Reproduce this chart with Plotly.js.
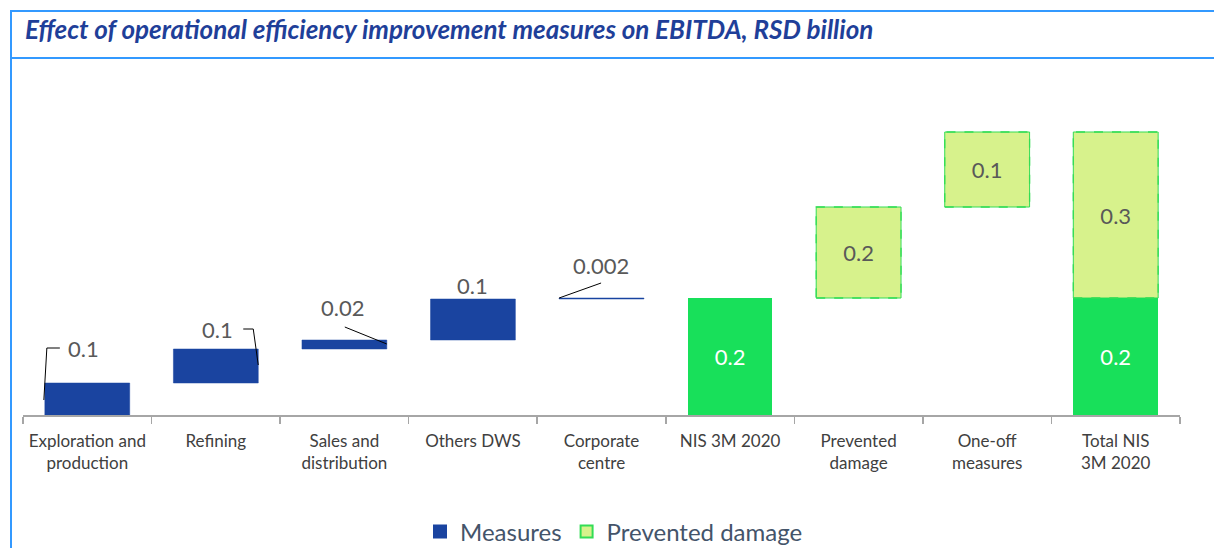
<!DOCTYPE html>
<html>
<head>
<meta charset="utf-8">
<script src="https://cdn.plot.ly/plotly-3.0.1.min.js"></script>
<style>
  html, body { margin: 0; padding: 0; background: #fff; }
  #wrap { position: relative; width: 1214px; height: 548px; overflow: hidden; }
  #chart { position: absolute; left: 0; top: 0; width: 1214px; height: 548px; }
  .fl { position: absolute; background: #3399ff; pointer-events: none; z-index: 5; }
</style>
</head>
<body>
<div id="wrap">
  <div id="chart"></div>
  <div class="fl" style="left:10px; top:10px; width:2px; height:538px;"></div>
  <div class="fl" style="left:10px; top:10px; width:1204px; height:2px;"></div>
  <div class="fl" style="left:10px; top:57px; width:1204px; height:2px;"></div>
</div>
<script>
// ---- data ----
const categories = ['Exploration and<br>production', 'Refining', 'Sales and<br>distribution', 'Others DWS',
  'Corporate<br>centre', 'NIS 3M 2020', 'Prevented<br>damage', 'One-off<br>measures', 'Total NIS<br>3M 2020'];
const measureValues = [0.064, 0.068, 0.018, 0.082, 0.002];
const measureLabels = ['0.1', '0.1', '0.02', '0.1', '0.002'];
const nisValue = 0.234;
const nisLabel = '0.2';
const preventedDamageValue = 0.182;
const oneOffValue = 0.150;
const damageLabels = ['0.2', '0.1', '0.3'];

// ---- styles ----
const BLUE = '#1a44a0', GREEN = '#18e05a', LIGHT = '#d7f28c', DASH = '#33dd55';
const FONT = 'Lato, "Open Sans", sans-serif';
const HALF = 0.33;

// measures (floating)
const measureCats = categories.slice(0, 5);
const measureBases = [];
let acc = 0;
measureValues.forEach(v => { measureBases.push(acc); acc += v; });

// prevented damage (floating)
const damageCats = [categories[6], categories[7], categories[8]];
const damageValues = [preventedDamageValue, oneOffValue, preventedDamageValue + oneOffValue];
const damageBases = [nisValue, nisValue + preventedDamageValue, nisValue];

const traces = [
  { type: 'bar', name: 'Measures', x: measureCats, y: measureValues, base: measureBases,
    marker: { color: BLUE, line: { color: BLUE, width: 0.5 } }, width: 2 * HALF, hoverinfo: 'skip' },
  { type: 'bar', name: 'Prevented damage', x: damageCats, y: damageValues, base: damageBases,
    marker: { color: LIGHT, line: { color: DASH, width: 1 } }, width: 2 * HALF,
    text: damageLabels, textposition: 'inside', insidetextanchor: 'middle', textangle: 0,
    textfont: { family: FONT, size: 22, color: '#595959' }, hoverinfo: 'skip' },
  { type: 'bar', name: 'NIS', showlegend: false, x: [categories[5], categories[8]], y: [nisValue, nisValue], base: [0, 0],
    marker: { color: GREEN, line: { width: 0 } }, width: 2 * HALF,
    text: [nisLabel, nisLabel], textposition: 'inside', insidetextanchor: 'middle', textangle: 0,
    textfont: { family: FONT, size: 22, color: '#ffffff' }, hoverinfo: 'skip' }
];

// dashed borders for prevented damage bars
const shapes = damageCats.map((c, i) => {
  const idx = categories.indexOf(c);
  return { type: 'rect', xref: 'x', yref: 'y', x0: idx - HALF, x1: idx + HALF,
    y0: damageBases[i], y1: damageBases[i] + damageValues[i],
    line: { color: DASH, width: 1.3, dash: 'dash' }, fillcolor: 'rgba(0,0,0,0)', layer: 'above' };
});

// leader lines (anchored to bar corners, pixel offsets)
const tops = measureValues.map((v, i) => measureBases[i] + v);
const leaders = [
  { idx: 0, side: -1, path: 'M -1,-17 L 2,35 L 15,35' },
  { idx: 1, side: 1, path: 'M 0,-16 L -5,20 L -15,20' },
  { idx: 2, side: 1, path: 'M 0,-4 L -42,13' },
  { idx: 4, side: -1, path: 'M 0,0 L 42,15' }
];
leaders.forEach(l => {
  shapes.push({ type: 'path', xref: 'x', yref: 'y', xsizemode: 'pixel', ysizemode: 'pixel',
    xanchor: l.idx + l.side * HALF, yanchor: tops[l.idx], path: l.path,
    line: { color: '#000000', width: 1 }, layer: 'above' });
});

// measure value labels
const labelOffsets = [[-4, 35], [2, 20], [-2, 33], [0, 14], [-1, 33]];
const annotations = measureCats.map((c, i) => ({
  x: c, y: tops[i], xref: 'x', yref: 'y', text: measureLabels[i], showarrow: false,
  xshift: labelOffsets[i][0], yshift: labelOffsets[i][1], xanchor: 'center', yanchor: 'middle',
  font: { family: FONT, size: 22, color: '#595959' }
}));

const layout = {
  width: 1214, height: 548,
  margin: { l: 23, r: 34, t: 70, b: 133, autoexpand: false },
  paper_bgcolor: '#ffffff', plot_bgcolor: '#ffffff',
  title: { text: 'Effect of operational efficiency improvement measures on EBITDA, RSD billion',
    xref: 'container', yref: 'container', x: 25 / 1214, xanchor: 'left', y: 1 - 30 / 548, yanchor: 'middle',
    font: { family: FONT, size: 26, color: '#1f3f99', weight: 'bold', style: 'italic' } },
  barmode: 'overlay',
  xaxis: { type: 'category', categoryorder: 'array', categoryarray: categories, range: [-0.5, 8.5],
    automargin: false,
    showline: true, linecolor: '#a6a6a6', linewidth: 1.5, ticks: 'outside', tickson: 'boundaries',
    ticklen: 7, tickcolor: '#a6a6a6', tickwidth: 1.5, showgrid: false, zeroline: false,
    ticklabelstandoff: 10,
    tickfont: { family: FONT, size: 17, color: '#404040' }, fixedrange: true },
  yaxis: { range: [0, 0.69], automargin: false, showgrid: false, zeroline: false, showticklabels: false, showline: false,
    ticks: '', fixedrange: true },
  showlegend: true,
  legend: { orientation: 'h', xref: 'container', yref: 'container', x: 614 / 1214, xanchor: 'center',
    y: 1 - 532 / 548, yanchor: 'middle',
    font: { family: FONT, size: 24, color: '#44546a' }, itemsizing: 'constant', traceorder: 'normal' },
  shapes: shapes,
  annotations: annotations,
  bargap: 0
};

Plotly.newPlot('chart', traces, layout, { displayModeBar: false, staticPlot: true });
</script>
</body>
</html>
